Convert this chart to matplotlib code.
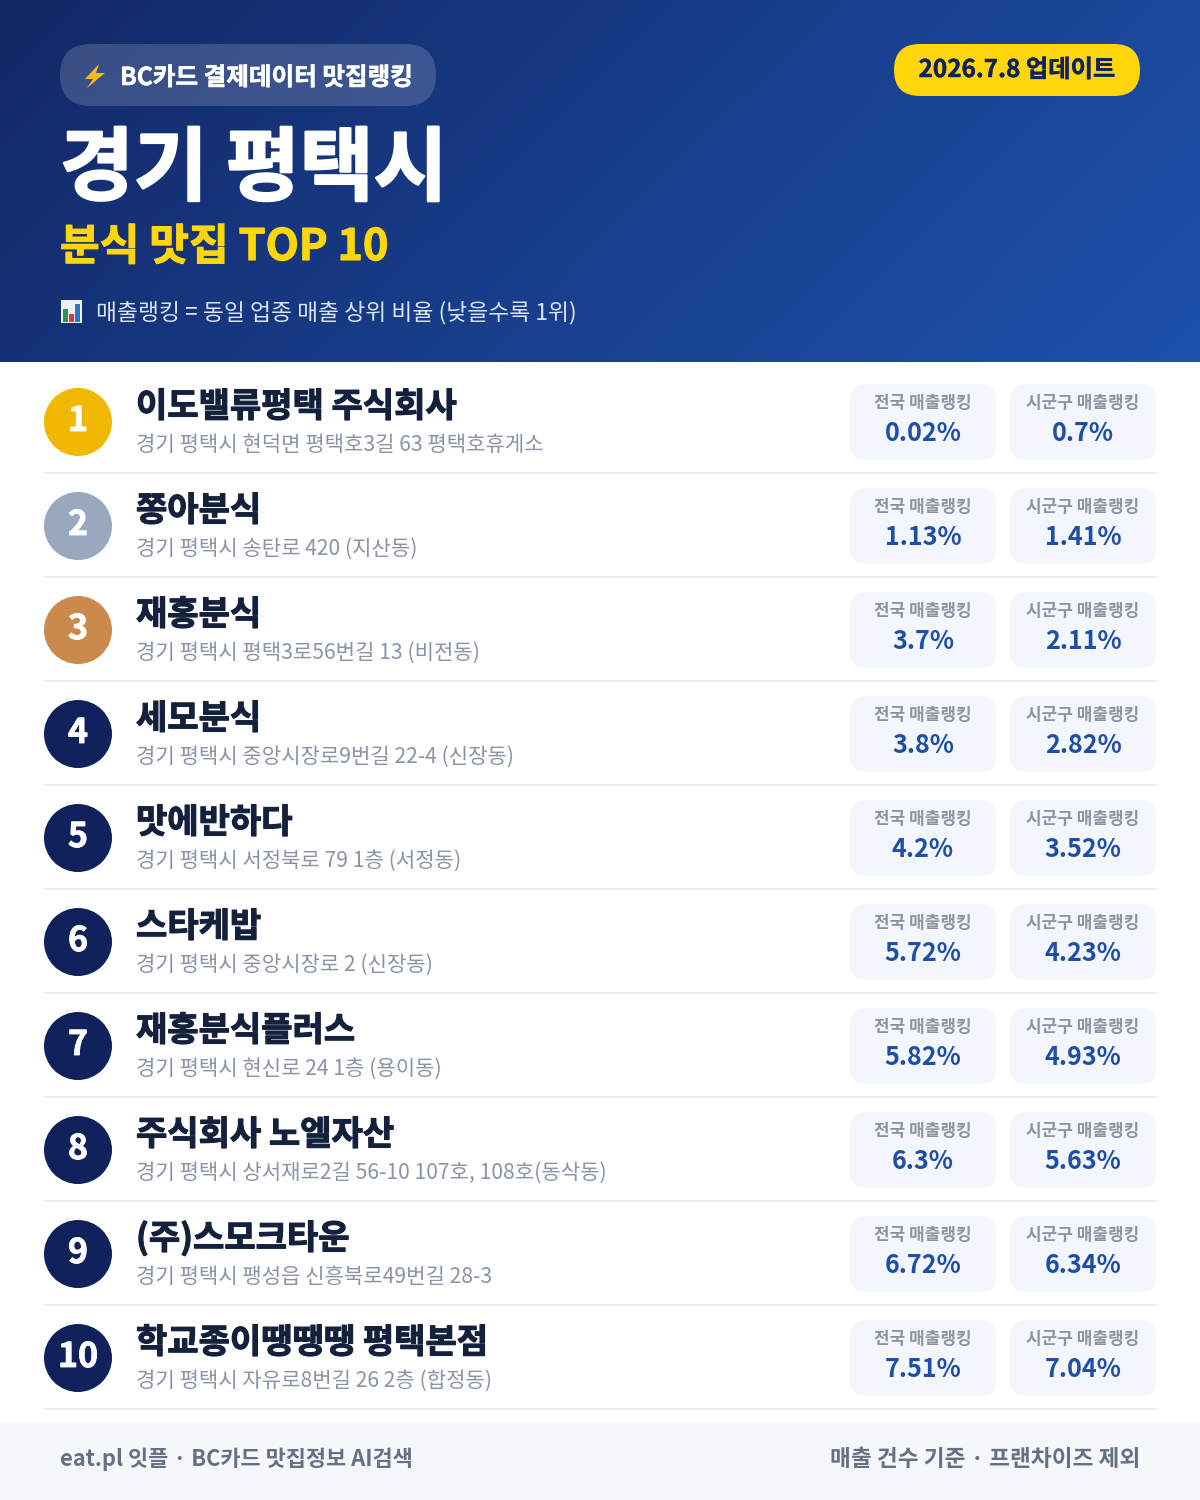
import numpy as np
import matplotlib
matplotlib.use('Agg')
import matplotlib.pyplot as plt
import matplotlib.patheffects as pe
from matplotlib.patches import FancyBboxPatch, Circle, Rectangle, Polygon

plt.rcParams['font.family'] = ['Noto Sans CJK KR', 'DejaVu Sans']

names = ['이도밸류평택 주식회사', '쫑아분식', '재홍분식', '세모분식', '맛에반하다',
         '스타케밥', '재홍분식플러스', '주식회사 노엘자산', '(주)스모크타운', '학교종이땡땡땡 평택본점']
addresses = ['경기 평택시 현덕면 평택호3길 63 평택호휴게소',
             '경기 평택시 송탄로 420 (지산동)',
             '경기 평택시 평택3로56번길 13 (비전동)',
             '경기 평택시 중앙시장로9번길 22-4 (신장동)',
             '경기 평택시 서정북로 79 1층 (서정동)',
             '경기 평택시 중앙시장로 2 (신장동)',
             '경기 평택시 현신로 24 1층 (용이동)',
             '경기 평택시 상서재로2길 56-10 107호, 108호(동삭동)',
             '경기 평택시 팽성읍 신흥북로49번길 28-3',
             '경기 평택시 자유로8번길 26 2층 (합정동)']
national = [0.02, 1.13, 3.7, 3.8, 4.2, 5.72, 5.82, 6.3, 6.72, 7.51]
local = [0.7, 1.41, 2.11, 2.82, 3.52, 4.23, 4.93, 5.63, 6.34, 7.04]
badge_colors = ['#f0b800', '#9aa8bf', '#c98a4b'] + ['#10225c'] * 7

fig = plt.figure(figsize=(12, 15), dpi=100)
ax = fig.add_axes([0, 0, 1, 1])
ax.set_xlim(0, 1200)
ax.set_ylim(1500, 0)
ax.axis('off')


def rbox(x0, y0, x1, y1, r, color, alpha=1.0):
    ax.add_patch(FancyBboxPatch((x0 + r, y0 + r), x1 - x0 - 2 * r, y1 - y0 - 2 * r,
                                boxstyle=f'round,pad={r},rounding_size={r}',
                                fc=color, ec='none', alpha=alpha))


# bold font only goes so far, thicken the heavy headings with a stroke
def heavy(txt, width):
    txt.set_path_effects([pe.withStroke(linewidth=width, foreground=txt.get_color())])


# header gradient
gx, gy = np.meshgrid(np.linspace(0, 1, 300), np.linspace(0, 1, 90))
g = (gx * 1200 + gy * 362) / (1200 + 362)
c0 = np.array([0x12, 0x28, 0x66]) / 255
c1 = np.array([0x1e, 0x52, 0xad]) / 255
ax.imshow(c0 + (c1 - c0) * g[..., None], extent=(0, 1200, 362, 0), aspect='auto', zorder=0)
ax.set_xlim(0, 1200)
ax.set_ylim(1500, 0)

rbox(60, 44, 436, 106, 31, 'white', 0.17)
ax.add_patch(Polygon([(99, 64), (85, 79), (93, 79), (87, 88), (105, 73), (96, 73)],
                     fc='#f5b81f', ec='none'))
heavy(ax.text(120, 85, 'BC카드 결제데이터 맛집랭킹', color='white', fontsize=17.7, fontweight='bold',
              va='baseline', ha='left'), 0.4)
rbox(894, 44, 1140, 96, 26, '#ffd60a')
heavy(ax.text(1017, 77, '2026.7.8 업데이트', color='#10225c', fontsize=17.5, fontweight='bold',
              va='baseline', ha='center'), 0.3)
heavy(ax.text(60, 194, '경기 평택시', color='white', fontsize=57.8, fontweight='bold',
              va='baseline', ha='left'), 1.6)
heavy(ax.text(60, 260, '분식 맛집 TOP 10', color='#ffd60a', fontsize=31.1, fontweight='bold',
              va='baseline', ha='left'), 0.8)

# chart icon
ax.add_patch(Rectangle((61, 300), 21, 23, fc='#eef2f7', ec='none'))
for bx, bt, bc in [(63, 309, '#2f8f55'), (69, 314, '#d23b3b'), (75, 304, '#3a6fd0')]:
    ax.add_patch(Rectangle((bx, bt), 5, 322 - bt, fc=bc, ec='none'))
ax.text(96, 319, '매출랭킹 = 동일 업종 매출 상위 비율 (낮을수록 1위)', color='#dbe4f5', fontsize=16.4,
        va='baseline', ha='left')

# rows
for i in range(len(names)):
    top = 362 + 104 * i
    cy = top + 60
    ax.add_patch(Circle((78, cy), 34, fc=badge_colors[i], ec='none'))
    heavy(ax.text(78, cy + 9, str(i + 1), color='white', fontsize=24.5, fontweight='bold',
                  va='baseline', ha='center'), 0.6)
    heavy(ax.text(136, top + 55, names[i], color='#14213d', fontsize=24.5, fontweight='bold',
                  va='baseline', ha='left'), 0.8)
    ax.text(136, top + 89, addresses[i], color='#8a94a6', fontsize=15.2,
            va='baseline', ha='left')
    for x0, label, val in [(850, '전국 매출랭킹', national[i]), (1010, '시군구 매출랭킹', local[i])]:
        rbox(x0, top + 22, x0 + 146, top + 98, 16, '#f3f6fc')
        ax.text(x0 + 73, top + 46, label, color='#8a94a6', fontsize=12.2, fontweight='bold',
                va='baseline', ha='center')
        ax.text(x0 + 73, top + 79, f'{val}%', color='#1e4fa8', fontsize=18.1, fontweight='bold',
                va='baseline', ha='center')
    ax.add_patch(Rectangle((44, top + 110), 1112, 2, fc='#eceef1', ec='none'))

# footer
ax.add_patch(Rectangle((0, 1422), 1200, 78, fc='#f5f7fb', ec='none'))
ax.text(60, 1466, 'eat.pl 잇플 · BC카드 맛집정보 AI검색', color='#667085', fontsize=15.8,
        fontweight='bold', va='baseline', ha='left')
ax.text(1140, 1466, '매출 건수 기준 · 프랜차이즈 제외', color='#667085', fontsize=16.3,
        fontweight='bold', va='baseline', ha='right')

fig.savefig('out.png', dpi=100)
